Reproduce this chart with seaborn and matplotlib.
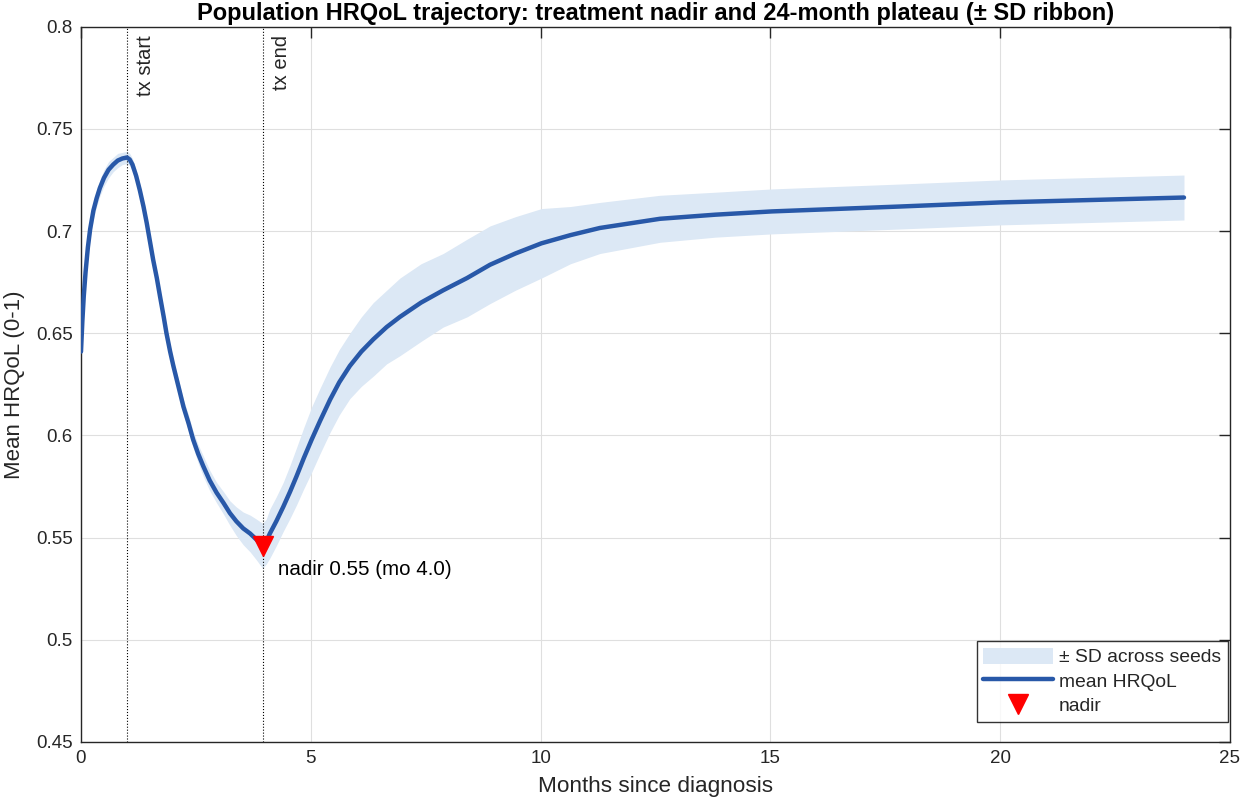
"""
Population HRQoL trajectory: mean across seeds with a +/- SD ribbon,
treatment start/end markers and the nadir.
"""

import matplotlib.pyplot as plt
import matplotlib.ticker as ticker
import pandas as pd
import seaborn as sns
from matplotlib.lines import Line2D
from matplotlib.patches import Patch

# Values
months = [0.00, 0.03, 0.06, 0.10, 0.15, 0.20, 0.27, 0.34, 0.41, 0.50,
          0.60, 0.70, 0.80, 0.90, 1.00, 1.06, 1.12, 1.20, 1.28, 1.36,
          1.43, 1.50, 1.57, 1.65, 1.72, 1.80, 1.86, 1.94, 2.01, 2.12,
          2.23, 2.34, 2.44, 2.55, 2.66, 2.80, 2.95, 3.10, 3.24, 3.38,
          3.53, 3.68, 3.82, 3.95, 4.03, 4.11, 4.25, 4.40, 4.55, 4.69,
          4.85, 5.02, 5.20, 5.42, 5.62, 5.85, 6.10, 6.36, 6.65, 6.94,
          7.40, 7.88, 8.40, 8.90, 9.45, 10.02, 10.65, 11.29, 12.60, 13.80,
          15.03, 17.82, 20.00, 24.00]
hrqol_mean = [0.641, 0.656, 0.668, 0.680, 0.692, 0.701, 0.710, 0.716, 0.721, 0.726,
              0.730, 0.7325, 0.7345, 0.7355, 0.736, 0.735, 0.7325, 0.727, 0.720, 0.712,
              0.704, 0.695, 0.686, 0.677, 0.668, 0.658, 0.650, 0.641, 0.634, 0.624,
              0.614, 0.606, 0.598, 0.591, 0.585, 0.578, 0.572, 0.567, 0.562, 0.558,
              0.5545, 0.552, 0.549, 0.546, 0.548, 0.552, 0.558, 0.565, 0.5725, 0.580,
              0.589, 0.598, 0.607, 0.6175, 0.626, 0.634, 0.641, 0.647, 0.653, 0.658,
              0.665, 0.671, 0.677, 0.6835, 0.689, 0.694, 0.698, 0.7015, 0.706, 0.708,
              0.7096, 0.712, 0.714, 0.7164]
hrqol_sd = [0.004, 0.004, 0.004, 0.004, 0.004, 0.004, 0.004, 0.004, 0.004, 0.004,
            0.004, 0.0035, 0.0035, 0.003, 0.003, 0.003, 0.003, 0.003, 0.003, 0.003,
            0.003, 0.003, 0.003, 0.003, 0.003, 0.003, 0.003, 0.003, 0.003, 0.0035,
            0.0035, 0.004, 0.004, 0.0045, 0.005, 0.005, 0.005, 0.0055, 0.006, 0.007,
            0.008, 0.009, 0.010, 0.011, 0.011, 0.012, 0.012, 0.012, 0.013, 0.014,
            0.015, 0.016, 0.016, 0.016, 0.016, 0.016, 0.017, 0.018, 0.018, 0.019,
            0.019, 0.018, 0.019, 0.019, 0.018, 0.017, 0.014, 0.0125, 0.0115, 0.011,
            0.011, 0.011, 0.011, 0.011]

tx_start = 1.0
tx_end = 3.95
nadir_month = 3.95
nadir_value = 0.546

x_ticks = [0, 5, 10, 15, 20, 25]
y_ticks = [0.45, 0.5, 0.55, 0.6, 0.65, 0.7, 0.75, 0.8]

line_color = "#2858a8"
ribbon_color = "#dce8f5"
ink = "#262626"

sns.set_theme(style="whitegrid", rc={
    "grid.color": "#dfdfdf",
    "grid.linewidth": 0.8,
    "axes.edgecolor": ink,
    "axes.linewidth": 1.0,
    "xtick.color": ink,
    "ytick.color": ink,
})
plt.rcParams["font.family"] = ["Liberation Sans", "DejaVu Sans"]

df = pd.DataFrame({"month": months, "mean": hrqol_mean, "sd": hrqol_sd})
df["lo"] = df["mean"] - df["sd"]
df["hi"] = df["mean"] + df["sd"]

fig = plt.figure(figsize=(12.44, 8.08), dpi=100)
ax = fig.add_axes([0.0651, 0.0817, 0.9236, 0.8853])

# Ribbon and mean line
ax.fill_between(df["month"], df["lo"], df["hi"], color=ribbon_color, linewidth=0, zorder=1)
sns.lineplot(data=df, x="month", y="mean", ax=ax, color=line_color, linewidth=3.2,
             estimator=None, sort=False, zorder=3)

# Treatment window markers
for xv, lab in [(tx_start, "tx start"), (tx_end, "tx end")]:
    ax.axvline(xv, color="black", linestyle=":", linewidth=0.8, zorder=2)
    ax.text(xv + 0.2, 0.796, lab, rotation=90, ha="left", va="top", fontsize=14.5, color=ink)

# Nadir
ax.plot([nadir_month], [nadir_value], marker="v", color="red", markersize=14,
        linestyle="none", zorder=4)
ax.text(nadir_month + 0.33, 0.5345, f"nadir {nadir_value:.2f} (mo 4.0)",
        ha="left", va="center", fontsize=14.8, color="black")

ax.set_xlim(0, 25)
ax.set_ylim(0.45, 0.8)
ax.set_xticks(x_ticks)
ax.set_yticks(y_ticks)
ax.yaxis.set_major_formatter(ticker.FuncFormatter(lambda v, p: f"{v:g}"))
ax.tick_params(direction="in", length=8, width=1, top=True, right=True,
               labelsize=13.5, pad=6)
for s in ax.spines.values():
    s.set_visible(True)
    s.set_color(ink)

ax.set_xlabel("Months since diagnosis", fontsize=16.2, color=ink, labelpad=6)
ax.set_ylabel("Mean HRQoL (0-1)", fontsize=16, color=ink, labelpad=8)
ax.set_title("Population HRQoL trajectory: treatment nadir and 24-month plateau (\u00b1 SD ribbon)",
             fontsize=17, fontweight="bold", color="black", pad=5)

handles = [
    Patch(facecolor=ribbon_color, edgecolor="none"),
    Line2D([0], [0], color=line_color, linewidth=3.2),
    Line2D([0], [0], marker="v", color="red", markersize=14, linestyle="none"),
]
labels = ["\u00b1 SD across seeds", "mean HRQoL", "nadir"]
leg = ax.legend(handles, labels, loc="lower right", bbox_to_anchor=(0.998, 0.028),
                borderaxespad=0, fontsize=13.9, frameon=True, fancybox=False,
                handlelength=3.6, handleheight=0.9, handletextpad=0.3,
                labelspacing=0.3, borderpad=0.35)
leg.get_frame().set_edgecolor("black")
leg.get_frame().set_linewidth(1.0)

plt.savefig("out.png", dpi=100)
